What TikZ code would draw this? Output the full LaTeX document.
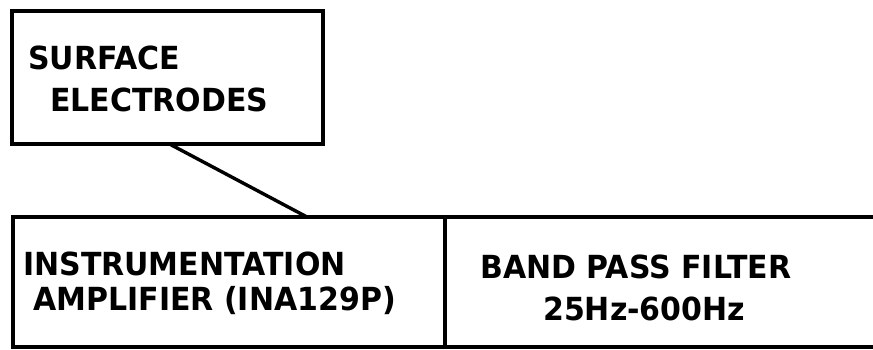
\documentclass[tikz,border=0pt]{standalone}
\usepackage{fontspec}
\setmainfont{DejaVu Sans}
\usetikzlibrary{calc}
\newcommand{\tallify}[1]{\scalebox{1}[1.06]{#1}}
\begin{document}
\begin{tikzpicture}[x=1pt,y=-1pt,
  blockbox/.style={draw=black, line width=3.6pt, inner sep=0pt, outer sep=0pt, anchor=north west},
  lbl/.style={anchor=base west, inner sep=0pt, text=black, font=\bfseries\fontsize{30}{36}\selectfont},
  link/.style={draw=black, line width=3.4pt}]
\useasboundingbox (0,0) rectangle (873,350);
\clip (0,0) rectangle (873,350);
\fill[white] (0,0) rectangle (873,350);
\node[blockbox, minimum width=311pt, minimum height=133pt] (se) at (12,11) {};
\node[blockbox, minimum width=432pt, minimum height=130pt] (amp) at (13,217) {};
\node[blockbox, minimum width=440pt, minimum height=130pt] (bpf) at (445,217) {};
\node[lbl] (t1) at (28,70) {\tallify{SURFACE}};
\node[lbl] (t2) at (50,112) {\tallify{ELECTRODES}};
\node[lbl] (t3) at (23,275) {\tallify{INSTRUMENTATION}};
\node[lbl] (t4) at (33,310) {\tallify{AMPLIFIER (INA129P)}};
\node[lbl] (t5) at (480,278) {\tallify{BAND PASS FILTER}};
\node[lbl] (t6) at (543,320) {\tallify{25Hz-600Hz}};
\draw[link] ([xshift=2pt]se.south) -- ([xshift=78pt]amp.north);
\end{tikzpicture}
\end{document}
